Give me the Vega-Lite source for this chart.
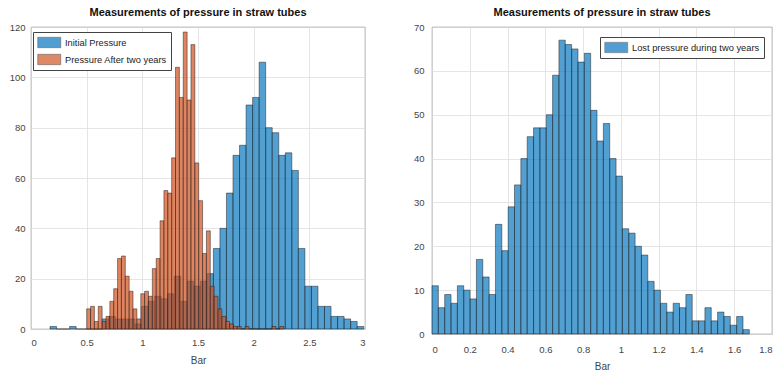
{
  "$schema": "https://vega.github.io/schema/vega-lite/v6.json",
  "background": "white",
  "padding": {"left": 0, "top": 6, "right": 0, "bottom": 0},
  "autosize": {"type": "pad"},
  "spacing": 67,
  "bounds": "flush",
  "config": {
    "font": "Liberation Sans",
    "view": {"stroke": "#555555", "strokeWidth": 0.8},
    "axis": {
      "labelFont": "Liberation Sans", "labelFontSize": 9.5, "labelColor": "#444444",
      "titleFont": "Liberation Sans", "titleFontSize": 10, "titleFontWeight": "normal", "titleColor": "#444444",
      "domain": false, "gridColor": "#dedede", "gridWidth": 0.8,
      "tickColor": "#555555", "tickSize": 0
    },
    "title": {"font": "Liberation Sans", "fontSize": 11, "fontWeight": "bold", "color": "#111111", "offset": 4}
  },
  "resolve": {"scale": {"color": "independent"}, "legend": {"color": "independent"}},
  "datasets": {
    "initial": [
      {"lo":0.1708,"hi":0.2295,"n":1},{"lo":0.2295,"hi":0.2882,"n":0},{"lo":0.2882,"hi":0.3469,"n":0},{"lo":0.3469,"hi":0.4056,"n":1},
      {"lo":0.4056,"hi":0.4643,"n":0},{"lo":0.4643,"hi":0.5230,"n":0},{"lo":0.5230,"hi":0.5817,"n":0},{"lo":0.5817,"hi":0.6404,"n":0},
      {"lo":0.6404,"hi":0.6991,"n":4},{"lo":0.6991,"hi":0.7578,"n":5},{"lo":0.7578,"hi":0.8165,"n":4},{"lo":0.8165,"hi":0.8752,"n":4},
      {"lo":0.8752,"hi":0.9339,"n":4},{"lo":0.9339,"hi":0.9926,"n":2},{"lo":0.9926,"hi":1.0513,"n":9},{"lo":1.0513,"hi":1.1100,"n":11},
      {"lo":1.1100,"hi":1.1687,"n":13},{"lo":1.1687,"hi":1.2274,"n":12},{"lo":1.2274,"hi":1.2861,"n":14},{"lo":1.2861,"hi":1.3448,"n":21},
      {"lo":1.3448,"hi":1.4035,"n":11},{"lo":1.4035,"hi":1.4622,"n":19},{"lo":1.4622,"hi":1.5209,"n":17},{"lo":1.5209,"hi":1.5796,"n":19},
      {"lo":1.5796,"hi":1.6383,"n":22},{"lo":1.6383,"hi":1.6970,"n":32},{"lo":1.6970,"hi":1.7557,"n":40},{"lo":1.7557,"hi":1.8144,"n":54},
      {"lo":1.8144,"hi":1.8731,"n":69},{"lo":1.8731,"hi":1.9318,"n":73},{"lo":1.9318,"hi":1.9905,"n":89},{"lo":1.9905,"hi":2.0492,"n":92},
      {"lo":2.0492,"hi":2.1079,"n":106},{"lo":2.1079,"hi":2.1666,"n":80},{"lo":2.1666,"hi":2.2253,"n":78},{"lo":2.2253,"hi":2.2840,"n":69},
      {"lo":2.2840,"hi":2.3427,"n":70},{"lo":2.3427,"hi":2.4014,"n":63},{"lo":2.4014,"hi":2.4601,"n":32},{"lo":2.4601,"hi":2.5188,"n":17},
      {"lo":2.5188,"hi":2.5775,"n":17},{"lo":2.5775,"hi":2.6362,"n":9},{"lo":2.6362,"hi":2.6949,"n":9},{"lo":2.6949,"hi":2.7536,"n":5},
      {"lo":2.7536,"hi":2.8123,"n":5},{"lo":2.8123,"hi":2.8710,"n":4},{"lo":2.8710,"hi":2.9297,"n":3},{"lo":2.9297,"hi":2.9884,"n":1}
    ],
    "after": [
      {"lo":0.5,"hi":0.5347,"n":8},{"lo":0.5347,"hi":0.5694,"n":9},{"lo":0.5694,"hi":0.6041,"n":3},{"lo":0.6041,"hi":0.6388,"n":9},
      {"lo":0.6388,"hi":0.6735,"n":3},{"lo":0.6735,"hi":0.7082,"n":5},{"lo":0.7082,"hi":0.7429,"n":11},{"lo":0.7429,"hi":0.7776,"n":16},
      {"lo":0.7776,"hi":0.8123,"n":28},{"lo":0.8123,"hi":0.847,"n":29},{"lo":0.847,"hi":0.8817,"n":21},{"lo":0.8817,"hi":0.9164,"n":15},
      {"lo":0.9164,"hi":0.9511,"n":8},{"lo":0.9511,"hi":0.9858,"n":4},{"lo":0.9858,"hi":1.0205,"n":14},{"lo":1.0205,"hi":1.0552,"n":15},
      {"lo":1.0552,"hi":1.0899,"n":13},{"lo":1.0899,"hi":1.1246,"n":24},{"lo":1.1246,"hi":1.1593,"n":28},{"lo":1.1593,"hi":1.194,"n":43},
      {"lo":1.194,"hi":1.2287,"n":55},{"lo":1.2287,"hi":1.2634,"n":54},{"lo":1.2634,"hi":1.2981,"n":68},{"lo":1.2981,"hi":1.3328,"n":104},
      {"lo":1.3328,"hi":1.3675,"n":92},{"lo":1.3675,"hi":1.4022,"n":118},{"lo":1.4022,"hi":1.4369,"n":91},{"lo":1.4369,"hi":1.4716,"n":113},
      {"lo":1.4716,"hi":1.5063,"n":66},{"lo":1.5063,"hi":1.541,"n":51},{"lo":1.541,"hi":1.5757,"n":30},{"lo":1.5757,"hi":1.6104,"n":39},
      {"lo":1.6104,"hi":1.6451,"n":17},{"lo":1.6451,"hi":1.6798,"n":13},{"lo":1.6798,"hi":1.7145,"n":8},{"lo":1.7145,"hi":1.7492,"n":5},
      {"lo":1.7492,"hi":1.7839,"n":3},{"lo":1.7839,"hi":1.8186,"n":2},{"lo":1.8186,"hi":1.8533,"n":1},{"lo":1.8533,"hi":1.888,"n":1},
      {"lo":1.888,"hi":1.9227,"n":0},{"lo":1.9227,"hi":1.9574,"n":1},{"lo":1.9574,"hi":1.9921,"n":0},{"lo":1.9921,"hi":2.0268,"n":0},
      {"lo":2.0268,"hi":2.0615,"n":0},{"lo":2.0615,"hi":2.0962,"n":0},{"lo":2.0962,"hi":2.1309,"n":0},{"lo":2.1309,"hi":2.1656,"n":0},
      {"lo":2.1656,"hi":2.2003,"n":1},{"lo":2.2003,"hi":2.235,"n":0},{"lo":2.235,"hi":2.2697,"n":1}
    ],
    "lost": [
      {"lo":0,"hi":0.0336,"n":11},{"lo":0.0336,"hi":0.0672,"n":6},{"lo":0.0672,"hi":0.1008,"n":9},{"lo":0.1008,"hi":0.1344,"n":7},
      {"lo":0.1344,"hi":0.168,"n":11},{"lo":0.168,"hi":0.2016,"n":10},{"lo":0.2016,"hi":0.2352,"n":8},{"lo":0.2352,"hi":0.2688,"n":17},
      {"lo":0.2688,"hi":0.3024,"n":13},{"lo":0.3024,"hi":0.336,"n":9},{"lo":0.336,"hi":0.3696,"n":25},{"lo":0.3696,"hi":0.4032,"n":19},
      {"lo":0.4032,"hi":0.4368,"n":29},{"lo":0.4368,"hi":0.4704,"n":34},{"lo":0.4704,"hi":0.504,"n":40},{"lo":0.504,"hi":0.5376,"n":45},
      {"lo":0.5376,"hi":0.5712,"n":47},{"lo":0.5712,"hi":0.6048,"n":47},{"lo":0.6048,"hi":0.6384,"n":50},{"lo":0.6384,"hi":0.672,"n":59},
      {"lo":0.672,"hi":0.7056,"n":67},{"lo":0.7056,"hi":0.7392,"n":66},{"lo":0.7392,"hi":0.7728,"n":65},{"lo":0.7728,"hi":0.8064,"n":62},
      {"lo":0.8064,"hi":0.84,"n":64},{"lo":0.84,"hi":0.8736,"n":51},{"lo":0.8736,"hi":0.9072,"n":44},{"lo":0.9072,"hi":0.9408,"n":48},
      {"lo":0.9408,"hi":0.9744,"n":40},{"lo":0.9744,"hi":1.008,"n":36},{"lo":1.008,"hi":1.0416,"n":24},{"lo":1.0416,"hi":1.0752,"n":23},
      {"lo":1.0752,"hi":1.1088,"n":20},{"lo":1.1088,"hi":1.1424,"n":18},{"lo":1.1424,"hi":1.176,"n":12},{"lo":1.176,"hi":1.2096,"n":10},
      {"lo":1.2096,"hi":1.2432,"n":7},{"lo":1.2432,"hi":1.2768,"n":5},{"lo":1.2768,"hi":1.3104,"n":7},{"lo":1.3104,"hi":1.344,"n":6},
      {"lo":1.344,"hi":1.3776,"n":9},{"lo":1.3776,"hi":1.4112,"n":3},{"lo":1.4112,"hi":1.4448,"n":3},{"lo":1.4448,"hi":1.4784,"n":6},
      {"lo":1.4784,"hi":1.512,"n":3},{"lo":1.512,"hi":1.5456,"n":5},{"lo":1.5456,"hi":1.5792,"n":4},{"lo":1.5792,"hi":1.6128,"n":2},
      {"lo":1.6128,"hi":1.6464,"n":4},{"lo":1.6464,"hi":1.68,"n":1}
    ]
  },
  "hconcat": [
    {
      "width": 334,
      "height": 302,
      "title": "Measurements of pressure in straw tubes",
      "encoding": {
        "x": {"field": "lo", "type": "quantitative", "scale": {"domain": [0, 3], "nice": false, "zero": false},
              "axis": {"values": [0, 0.5, 1, 1.5, 2, 2.5, 3], "format": "~g", "title": "Bar", "labelPadding": 8, "titlePadding": 9}},
        "x2": {"field": "hi"},
        "y": {"field": "n", "type": "quantitative", "stack": null, "scale": {"domain": [0, 120], "nice": false},
              "axis": {"values": [0, 20, 40, 60, 80, 100, 120], "title": null, "labelPadding": 6, "minExtent": 30}},
        "y2": {"datum": 0}
      },
      "layer": [
        {
          "data": {"name": "initial"},
          "mark": {"type": "bar", "fillOpacity": 0.68, "stroke": "#1a1a1a", "strokeWidth": 0.6, "strokeOpacity": 0.8},
          "encoding": {
            "color": {"datum": "Initial Pressure", "type": "nominal",
              "scale": {"domain": ["Initial Pressure", "Pressure After two years"], "range": ["#0072BD", "#D0501C"]},
              "legend": {"orient": "none", "legendX": 2, "legendY": 5, "title": null, "fillColor": "white", "strokeColor": "#444444",
                "padding": 4, "symbolType": "M-1,-0.9H3V0.9H-1Z", "symbolSize": 132, "symbolStrokeColor": "#333333",
                "symbolStrokeWidth": 0.6, "symbolOpacity": 0.68, "labelFont": "Liberation Sans", "labelFontSize": 9.3,
                "labelColor": "#222222", "rowPadding": 4, "labelOffset": 15}}
          }
        },
        {
          "data": {"name": "after"},
          "mark": {"type": "bar", "fillOpacity": 0.7, "stroke": "#1a1a1a", "strokeWidth": 0.6, "strokeOpacity": 0.8},
          "encoding": {
            "color": {"datum": "Pressure After two years", "type": "nominal"}
          }
        }
      ]
    },
    {
      "width": 340,
      "height": 307,
      "title": "Measurements of pressure in straw tubes",
      "data": {"name": "lost"},
      "mark": {"type": "bar", "fillOpacity": 0.68, "stroke": "#1a1a1a", "strokeWidth": 0.6, "strokeOpacity": 0.8},
      "encoding": {
        "x": {"field": "lo", "type": "quantitative", "scale": {"domain": [0, 1.8], "nice": false, "zero": false},
              "axis": {"values": [0, 0.2, 0.4, 0.6, 0.8, 1, 1.2, 1.4, 1.6, 1.8], "format": "~g", "title": "Bar", "labelPadding": 10, "titlePadding": 8, "labelFlush": true}},
        "x2": {"field": "hi"},
        "y": {"field": "n", "type": "quantitative", "stack": null, "scale": {"domain": [0, 70], "nice": false},
              "axis": {"values": [0, 10, 20, 30, 40, 50, 60, 70], "title": null, "labelPadding": 8}},
        "y2": {"datum": 0},
        "color": {"datum": "Lost pressure during two years", "type": "nominal",
          "scale": {"range": ["#0072BD"]},
          "legend": {"orient": "none", "legendX": 168, "legendY": 10, "title": null, "fillColor": "white", "strokeColor": "#444444",
            "padding": 4, "symbolType": "M-1,-0.9H3V0.9H-1Z", "symbolSize": 132, "symbolStrokeColor": "#333333",
            "symbolStrokeWidth": 0.6, "symbolOpacity": 0.68, "labelFont": "Liberation Sans", "labelFontSize": 9.3,
            "labelColor": "#222222", "labelOffset": 15}}
      }
    }
  ]
}
